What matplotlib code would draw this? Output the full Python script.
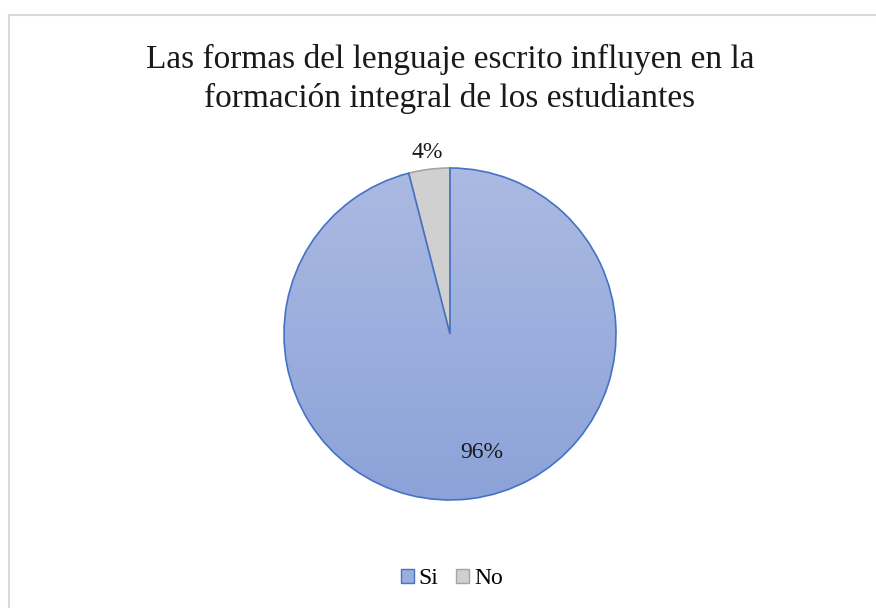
import numpy as np
import matplotlib.pyplot as plt
from matplotlib.colors import LinearSegmentedColormap

plt.rcParams['font.family'] = ['Liberation Serif', 'DejaVu Serif']

# data
labels = ['Si', 'No']
values = [96, 4]
pct_labels = ['96%', '4%']

fig = plt.figure(figsize=(8.76, 6.08), dpi=100)

# light gray chart border (left and top edges visible)
fig.add_artist(plt.Line2D([9 / 876, 9 / 876], [0, 1 - 15 / 608], color='#d9d9d9', lw=1.5))
fig.add_artist(plt.Line2D([9 / 876, 1], [1 - 15 / 608, 1 - 15 / 608], color='#d9d9d9', lw=1.5))

fig.text(450 / 876, 1 - 59 / 608, 'Las formas del lenguaje escrito influyen en la',
         ha='center', va='center', fontsize=24, color='#1a1a1a')
fig.text(450 / 876, 1 - 98 / 608, 'formación integral de los estudiantes',
         ha='center', va='center', fontsize=24, color='#1a1a1a')

# pie axes: center (450, 334) px, radius 166 px
side = 400
ax = fig.add_axes([(450 - side / 2) / 876, (608 - 334 - side / 2) / 608, side / 876, side / 608])
lim = side / 2 / 166

wedges, _ = ax.pie(values, startangle=90, counterclock=False, radius=1,
                   colors=['none', '#d0d0d0'],
                   wedgeprops=dict(edgecolor='none', linewidth=1.2))
wedges[1].set_edgecolor('#a5a5a5')

# gradient fill for the "Si" slice
cmap = LinearSegmentedColormap.from_list('g', ['#8ca2d8', '#abbae2'])
grad = np.linspace(0, 1, 256).reshape(-1, 1)
im = ax.imshow(grad, cmap=cmap, extent=[-1, 1, -1, 1], origin='lower', aspect='auto', zorder=0.5)
im.set_clip_path(wedges[0])

# outline of the Si slice on top
edge = plt.matplotlib.patches.Wedge((0, 0), 1, wedges[0].theta1, wedges[0].theta2,
                                    facecolor='none', edgecolor='#4472c4', lw=1.2, zorder=3)
ax.add_patch(edge)

# percentage labels (best-fit style placement)
dist = [0.74, 1.10]
shift = [8, 0]
for w, txt, d, s in zip(wedges, pct_labels, dist, shift):
    ang = np.deg2rad((w.theta1 + w.theta2) / 2 + s)
    ax.text(d * np.cos(ang), d * np.sin(ang), txt, ha='center', va='center',
            fontsize=17, color='#1a1a1a', zorder=4)

ax.set_xlim(-lim, lim)
ax.set_ylim(-lim, lim)
ax.set_aspect('equal')
ax.axis('off')

# legend
handles = [plt.Rectangle((0, 0), 1, 1, facecolor='#9caedd', edgecolor='#4472c4'),
           plt.Rectangle((0, 0), 1, 1, facecolor='#d0d0d0', edgecolor='#a5a5a5')]
fig.legend(handles, labels, loc='center', bbox_to_anchor=(452 / 876, 1 - 579 / 608),
           ncol=2, frameon=False, fontsize=17, handlelength=0.55, handleheight=0.55,
           handletextpad=0.2, columnspacing=0.75)

fig.savefig('out.png', dpi=100)
